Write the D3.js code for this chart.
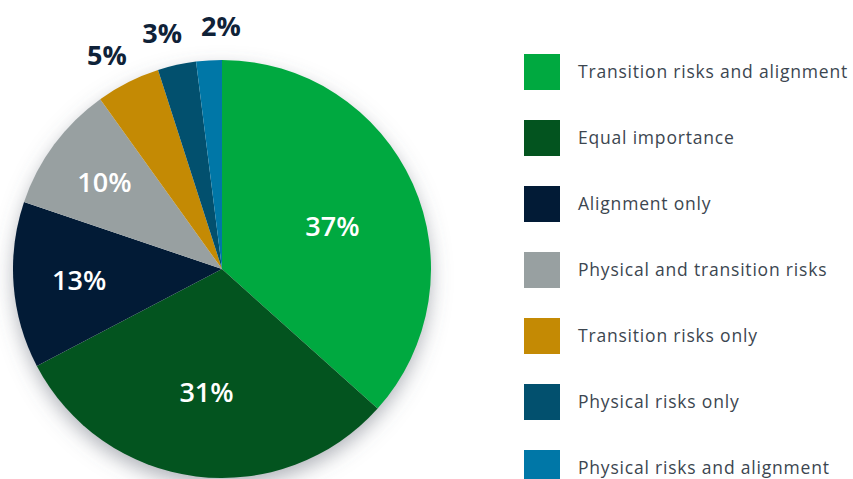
<!DOCTYPE html>
<html>
<head>
<meta charset="utf-8">
<script src="https://cdn.jsdelivr.net/npm/d3@7"></script>
<style>
  html, body { margin: 0; padding: 0; background: #fff; }
  svg { display: block; }
</style>
</head>
<body>
<div id="chart"></div>
<script>
// data
var categories = [
    "Transition risks and alignment",
    "Equal importance",
    "Alignment only",
    "Physical and transition risks",
    "Transition risks only",
    "Physical risks only",
    "Physical risks and alignment"
];
var shares = [37, 31, 13, 10, 5, 3, 2];
var colors = ["#00a940", "#03541f", "#021b36", "#98a0a1", "#c48a04", "#02506e", "#0077a7"];

var width = 853, height = 479;
var cx = 222, cy = 269, radius = 209;

var svg = d3.select("#chart").append("svg")
    .attr("width", width)
    .attr("height", height);

var defs = svg.append("defs");
var shadow = defs.append("filter")
    .attr("id", "shadow")
    .attr("x", "-20%").attr("y", "-20%")
    .attr("width", "140%").attr("height", "140%");
shadow.append("feDropShadow")
    .attr("dx", 0).attr("dy", 8)
    .attr("stdDeviation", 10)
    .attr("flood-color", "#5b6470")
    .attr("flood-opacity", 0.5);

var data = categories.map(function(c, i) { return {name: c, value: shares[i], color: colors[i]}; });

var pie = d3.pie()
    .sort(null)
    .value(function(d) { return d.value; });

var arcs = pie(data);
var total = d3.sum(shares);

var arc = d3.arc().innerRadius(0).outerRadius(radius);

var g = svg.append("g")
    .attr("transform", "translate(" + cx + "," + cy + ")");

g.append("circle")
    .attr("r", radius - 1)
    .attr("fill", "#fff")
    .attr("filter", "url(#shadow)");

g.selectAll("path.slice")
    .data(arcs)
    .enter().append("path")
    .attr("class", "slice")
    .attr("d", arc)
    .attr("fill", function(d) { return d.data.color; });

// inside labels: big slices sit nearer the centre
var inside = arcs.filter(function(d) { return d.data.value >= 8; });
g.selectAll("text.inside")
    .data(inside)
    .enter().append("text")
    .attr("class", "inside")
    .attr("transform", function(d) {
        var r = radius * (0.75 - 0.5 * d.data.value / total);
        var a = (d.startAngle + d.endAngle) / 2;
        if (d.data.value > 35) { a += 0.05; }
        return "translate(" + (Math.sin(a) * r) + "," + (-Math.cos(a) * r) + ")";
    })
    .attr("text-anchor", "middle")
    .attr("dy", "0.36em")
    .attr("fill", "#fff")
    .style("font-family", "'Open Sans', sans-serif")
    .style("font-weight", 600)
    .style("font-size", "27px")
    .text(function(d) { return d.data.value + "%"; });

// outside labels, spread apart so they don't collide
var outside = arcs.filter(function(d) { return d.data.value < 8; })
    .map(function(d) { return {d: d, a: (d.startAngle + d.endAngle) / 2 - 2 * Math.PI}; });
var minGap = 14 * Math.PI / 180;
for (var it = 0; it < 50; it++) {
    outside.sort(function(a, b) { return a.a - b.a; });
    for (var i = 1; i < outside.length; i++) {
        var gap = outside[i].a - outside[i - 1].a;
        if (gap < minGap) {
            var push = (minGap - gap) / 2;
            outside[i].a += push;
            outside[i - 1].a -= push;
        }
    }
}
var outR = 243;
g.selectAll("text.outside")
    .data(outside)
    .enter().append("text")
    .attr("class", "outside")
    .attr("x", function(o) { return Math.sin(o.a) * outR; })
    .attr("y", function(o) { return -Math.cos(o.a) * outR; })
    .attr("text-anchor", "middle")
    .attr("dy", "0.36em")
    .attr("fill", "#0f2238")
    .style("font-family", "'Open Sans', sans-serif")
    .style("font-weight", 700)
    .style("font-size", "27px")
    .text(function(o) { return o.d.data.value + "%"; });

// legend
var ly = d3.scalePoint()
    .domain(categories)
    .range([72, 468]);

var legend = svg.selectAll("g.legend")
    .data(data)
    .enter().append("g")
    .attr("class", "legend")
    .attr("transform", function(d) { return "translate(524," + ly(d.name) + ")"; });

legend.append("rect")
    .attr("x", 0)
    .attr("y", -18)
    .attr("width", 36)
    .attr("height", 36)
    .attr("fill", function(d) { return d.color; });

legend.append("text")
    .attr("x", 54)
    .attr("dy", "0.36em")
    .attr("fill", "#3c4650")
    .style("font-family", "'Open Sans', sans-serif")
    .style("font-size", "17.5px")
    .style("letter-spacing", "0.8px")
    .text(function(d) { return d.name; });
</script>
</body>
</html>
